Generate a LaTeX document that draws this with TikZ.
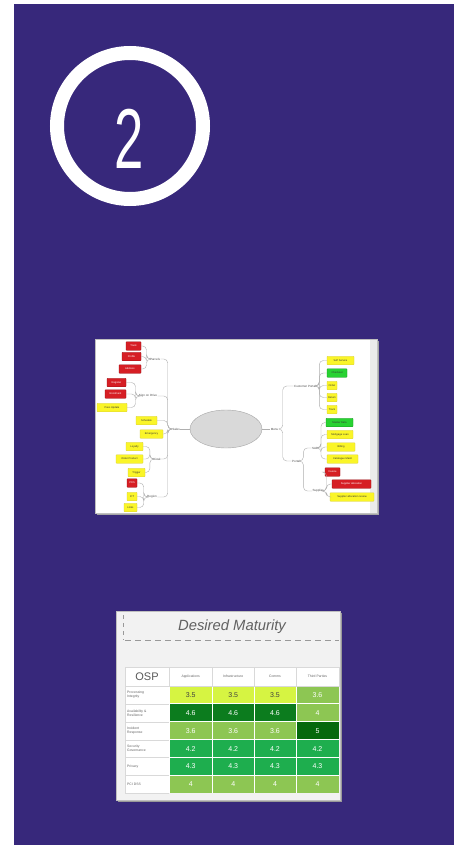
\documentclass[tikz,border=0pt]{standalone}
\usepackage{fontspec}
\setmainfont{Liberation Sans}
\usetikzlibrary{shapes.geometric,calc}
\definecolor{bgpurple}{RGB}{55,40,123}
\definecolor{mmred}{RGB}{214,30,36}
\definecolor{mmredb}{RGB}{150,15,20}
\definecolor{mmyel}{RGB}{250,245,40}
\definecolor{mmyelb}{RGB}{215,205,60}
\definecolor{mmgrn}{RGB}{40,210,50}
\definecolor{mmgrnb}{RGB}{20,150,30}
\definecolor{conn}{RGB}{175,175,175}
\definecolor{lime}{RGB}{214,244,66}
\definecolor{lgreen}{RGB}{141,198,83}
\definecolor{dgreen}{RGB}{12,124,30}
\definecolor{ddgreen}{RGB}{5,104,12}
\definecolor{mgreen}{RGB}{30,174,78}
\definecolor{tgray}{RGB}{100,100,100}
\newcommand\tcell[7]{\node[cellbox, fill=#5, text=#6, minimum width=#4] (#1) at (#2,#3) {#7};}
\begin{document}
\begin{tikzpicture}[x=1pt,y=-1pt,
  mmbox/.style={rectangle, rounded corners=0.6pt, minimum height=8.5pt, inner sep=0.3pt,
      font=\fontsize{2.6}{3}\selectfont, line width=0.4pt},
  rbox/.style={mmbox, fill=mmred, draw=mmredb, text=white},
  ybox/.style={mmbox, fill=mmyel, draw=mmyelb, text=black!80},
  gbox/.style={mmbox, fill=mmgrn, draw=mmgrnb, text=black!80},
  mlab/.style={inner sep=0.3pt, font=\fontsize{3}{3.5}\selectfont, text=black!70},
  mconn/.style={draw=conn, line width=0.4pt, rounded corners=4pt},
  cellbox/.style={rectangle, minimum height=16.9pt, inner sep=0pt, font=\fontsize{7}{8}\selectfont},
  rowlab/.style={anchor=west, inner sep=0pt, align=left, font=\fontsize{3.4}{3.9}\selectfont, text=tgray},
  colhead/.style={inner sep=0pt, font=\fontsize{3.4}{4}\selectfont, text=tgray},
  grid/.style={draw=black!15, line width=0.4pt}
]
\useasboundingbox (0,0) rectangle (454,845);
\fill[white] (0,0) rectangle (454,845);
\fill[bgpurple] (14,4) rectangle (454,845);

% numbered ring
\draw[white, line width=14pt] (130,126) circle[radius=73pt];
\node[anchor=base, inner sep=0pt, text=white] (two) at (129,168)
  {\scalebox{0.62}[1]{\fontsize{85}{85}\selectfont 2}};

% ---------------- mind map picture ----------------
\fill[black!35] (97,341) rectangle (379,515);
\filldraw[fill=white, draw=black!25, line width=0.5pt] (95,339) rectangle (377,513);
\fill[black!8] (370,340) rectangle (376.7,512.7);

\node[ellipse, fill=black!15, draw=black!35, line width=0.4pt, minimum width=72pt, minimum height=38pt, inner sep=0pt] (ell) at (226,429) {};

% left side
\node[mlab] (sales) at (176,429) {Sales};
\node[mlab] (parcels) at (155,359) {Parcels};
\node[mlab] (sign) at (148,396) {Sign on Drive};
\node[mlab] (kiosk) at (157,459) {Kiosk};
\node[mlab] (region) at (152,497) {Region};

\node[rbox, minimum width=15pt] (l1) at (133.5,346) {Track};
\node[rbox, minimum width=19pt] (l2) at (131.5,356.5) {Profile};
\node[rbox, minimum width=22pt] (l3) at (130,369) {Address};
\node[rbox, minimum width=19pt] (l4) at (116.5,382.5) {Register};
\node[rbox, minimum width=21pt] (l5) at (115.5,394) {Enrolment};
\node[ybox, minimum width=30pt] (l6) at (112,407.5) {Pass Update};
\node[ybox, minimum width=21pt] (l7) at (146.5,420.5) {Schedule};
\node[ybox, minimum width=23pt] (l8) at (151.5,434) {Emergency};
\node[ybox, minimum width=17pt] (l9) at (134.5,446.5) {Loyalty};
\node[ybox, minimum width=27pt] (l10) at (129.5,459) {Order Product};
\node[ybox, minimum width=17pt] (l11) at (136.5,472.5) {Trigger};
\node[rbox, minimum width=10pt] (l12) at (132,483) {POS};
\node[ybox, minimum width=10pt] (l13) at (132,496.5) {ICT};
\node[ybox, minimum width=13pt] (l14) at (130.5,507.5) {Links};

\draw[mconn] (ell.west) -- (sales.east);
\foreach \t in {parcels,sign,l7,l8,kiosk,region}
  \draw[mconn] (sales.west) -- ++(-4,0) |- (\t.east);
\foreach \t in {l1,l2,l3} \draw[mconn] (parcels.west) -- ++(-3,0) |- (\t.east);
\foreach \t in {l4,l5,l6} \draw[mconn] (sign.west) -- ++(-3,0) |- (\t.east);
\foreach \t in {l9,l10,l11} \draw[mconn] (kiosk.west) -- ++(-3,0) |- (\t.east);
\foreach \t in {l12,l13,l14} \draw[mconn] (region.west) -- ++(-3,0) |- (\t.east);

% right side
\node[mlab] (menu) at (274.5,429) {Menu};
\node[mlab] (cport) at (305,386) {Customer Portal};
\node[mlab] (portal) at (296,461) {Portal};
\node[mlab] (sap) at (315,448) {SAP};
\node[mlab] (supp) at (318,491) {Supplier};

\node[ybox, minimum width=27pt] (r1) at (340.5,360.5) {Self Service};
\node[gbox, minimum width=20pt] (r2) at (337,373) {Checkout};
\node[ybox, minimum width=10pt] (r3) at (332,385.5) {Order};
\node[ybox, minimum width=10pt] (r4) at (332,397.5) {Return};
\node[ybox, minimum width=10pt] (r5) at (332,409.5) {Track};
\node[gbox, minimum width=27pt] (r6) at (339.5,422.5) {Master Data};
\node[ybox, minimum width=26pt] (r7) at (340,434.5) {Mortgage Loan};
\node[ybox, minimum width=28pt] (r8) at (341,447) {Billing};
\node[ybox, minimum width=31pt] (r9) at (342.5,459) {Catalogue Maint};
\node[rbox, minimum width=15pt] (r10) at (332.5,472) {Invoice};
\node[rbox, minimum width=39pt] (r11) at (351.5,484) {Supplier allocation};
\node[ybox, minimum width=44pt] (r12) at (352,497) {Supplier allocation review};

\draw[mconn] (ell.east) -- (menu.west);
\foreach \t in {cport,portal} \draw[mconn] (menu.east) -- ++(4,0) |- (\t.west);
\foreach \t in {r1,r2,r3,r4,r5} \draw[mconn] (cport.east) -- ++(3,0) |- (\t.west);
\foreach \t in {sap,supp} \draw[mconn] (portal.east) -- ++(3,0) |- (\t.west);
\foreach \t in {r6,r7,r8,r9} \draw[mconn] (sap.east) -- ++(2.5,0) |- (\t.west);
\foreach \t in {r10,r11,r12} \draw[mconn] (supp.east) -- ++(2.5,0) |- (\t.west);

% ---------------- maturity table picture ----------------
\fill[black!40] (118,613) rectangle (342,802);
\filldraw[fill=black!5, draw=black!25, line width=0.5pt] (116,611) rectangle (340,800);
\node[inner sep=0pt, font=\fontsize{14.8}{16}\selectfont\itshape, text=black!62] (title) at (232,627) {Desired Maturity};
\draw[black!40, dash pattern=on 6pt off 4pt, line width=0.6pt] (125,640) -- (339,640);
\draw[black!40, dash pattern=on 4pt off 4pt, line width=0.6pt] (123,615) -- (123,640);

\fill[white] (125,667) rectangle (339,793.4);
% header and label grid
\draw[grid] (125,667) rectangle (339,686);
\foreach \xx in {169,212.5,254,296} \draw[grid] (\xx,667) -- (\xx,686);
\foreach \yy in {703.9,721.8,739.7,757.6,775.5,793.4} \draw[grid] (125,\yy) -- (169,\yy);
\draw[grid] (125,686) -- (125,793.4);

\node[inner sep=0pt, font=\fontsize{11}{12}\selectfont, text=black!65] (osp) at (147,676.5) {OSP};
\node[colhead] (h1) at (190.75,676.5) {Applications};
\node[colhead] (h2) at (233.25,676.5) {Infrastructure};
\node[colhead] (h3) at (275,676.5) {Comms};
\node[colhead] (h4) at (317.5,676.5) {Third Parties};

\node[rowlab] (p1) at (127,694.95) {Processing\\Integrity};
\node[rowlab] (p2) at (127,712.85) {Availability \&\\Resilience};
\node[rowlab] (p3) at (127,730.75) {Incident\\Response};
\node[rowlab] (p4) at (127,748.65) {Security\\Governance};
\node[rowlab] (p5) at (127,766.55) {Privacy};
\node[rowlab] (p6) at (127,784.45) {PCI DSS};

% row 1
\tcell{c11}{190.75}{694.95}{42.5pt}{lime}{black!75}{3.5}
\tcell{c12}{233.25}{694.95}{40.5pt}{lime}{black!75}{3.5}
\tcell{c13}{275}{694.95}{41pt}{lime}{black!75}{3.5}
\tcell{c14}{317.5}{694.95}{42pt}{lgreen}{white}{3.6}
% row 2
\tcell{c21}{190.75}{712.85}{42.5pt}{dgreen}{white}{4.6}
\tcell{c22}{233.25}{712.85}{40.5pt}{dgreen}{white}{4.6}
\tcell{c23}{275}{712.85}{41pt}{dgreen}{white}{4.6}
\tcell{c24}{317.5}{712.85}{42pt}{lgreen}{white}{4}
% row 3
\tcell{c31}{190.75}{730.75}{42.5pt}{lgreen}{white}{3.6}
\tcell{c32}{233.25}{730.75}{40.5pt}{lgreen}{white}{3.6}
\tcell{c33}{275}{730.75}{41pt}{lgreen}{white}{3.6}
\tcell{c34}{317.5}{730.75}{42pt}{ddgreen}{white}{5}
% row 4
\tcell{c41}{190.75}{748.65}{42.5pt}{mgreen}{white}{4.2}
\tcell{c42}{233.25}{748.65}{40.5pt}{mgreen}{white}{4.2}
\tcell{c43}{275}{748.65}{41pt}{mgreen}{white}{4.2}
\tcell{c44}{317.5}{748.65}{42pt}{mgreen}{white}{4.2}
% row 5
\tcell{c51}{190.75}{766.55}{42.5pt}{mgreen}{white}{4.3}
\tcell{c52}{233.25}{766.55}{40.5pt}{mgreen}{white}{4.3}
\tcell{c53}{275}{766.55}{41pt}{mgreen}{white}{4.3}
\tcell{c54}{317.5}{766.55}{42pt}{mgreen}{white}{4.3}
% row 6
\tcell{c61}{190.75}{784.45}{42.5pt}{lgreen}{white}{4}
\tcell{c62}{233.25}{784.45}{40.5pt}{lgreen}{white}{4}
\tcell{c63}{275}{784.45}{41pt}{lgreen}{white}{4}
\tcell{c64}{317.5}{784.45}{42pt}{lgreen}{white}{4}
\end{tikzpicture}
\end{document}
